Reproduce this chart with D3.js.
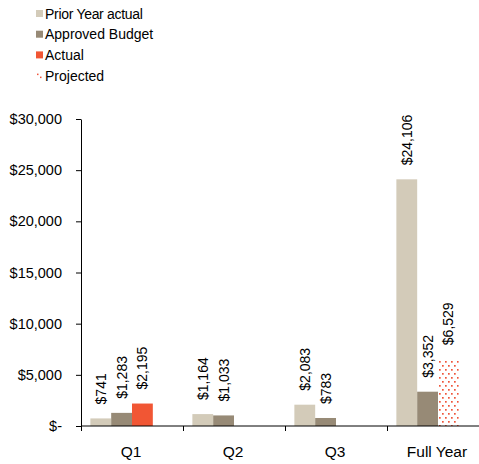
<!DOCTYPE html>
<html>
<head>
<meta charset="utf-8">
<script src="https://cdn.jsdelivr.net/npm/d3@7"></script>
<style>
	body { margin:0; background:#fff; }
	text { font-family: "Liberation Sans", Arial, sans-serif; fill:#000; }
</style>
</head>
<body>
<div id="chart-box"></div>
<script>
// Chart data
const categories= ["Q1","Q2","Q3","Full Year"];
const priorYear= [741,1164,2083,24106];
const approvedBudget= [1283,1033,783,3352];
const actual= [2195,null,null,null];
const projected= [null,null,null,6529];
const yTicks= [0,5000,10000,15000,20000,25000,30000];
const legendNames= ["Prior Year actual","Approved Budget","Actual","Projected"];

const chart=
{
	draw: function ()
	{
		const w= 479;
		const h= 464;
		const svg= d3.select("#chart-box")
		.append("svg")
		.attr("width", w)
		.attr("height", h);

		// dotted fill for projected bar
		const pat= svg.append("defs").append("pattern")
		 .attr("id","dots")
		 .attr("patternUnits","userSpaceOnUse")
		 .attr("width",6)
		 .attr("height",8);
		pat.append("rect").attr("width",6).attr("height",8).attr("fill","#fff");
		pat.append("rect").attr("x",1).attr("y",1).attr("width",1.7).attr("height",1.7).attr("fill","#f0553a");
		pat.append("rect").attr("x",4).attr("y",5).attr("width",1.7).attr("height",1.7).attr("fill","#f0553a");

		const series=
		[
			{name:legendNames[0], values:priorYear, slot:0, fill:"#d3cbb9"},
			{name:legendNames[1], values:approvedBudget, slot:1, fill:"#978a76"},
			{name:legendNames[2], values:actual, slot:2, fill:"#f15634"},
			{name:legendNames[3], values:projected, slot:2, fill:"url(#dots)"}
		];

		// Scales
		const yScale= d3.scaleLinear()
		 .domain([0,30000])
		 .range([426,119]);
		const xScale= d3.scaleBand()
		 .domain(categories)
		 .range([81,489]);
		const slotScale= d3.scaleBand()
		 .domain([0,1,2,3])
		 .range([0,xScale.bandwidth()])
		 .paddingInner(0)
		 .paddingOuter(0.45);

		// Bars
		series.forEach(s =>
		{
			const rows= categories.map((c,i)=> [c, s.values[i]]).filter(d => d[1]!==null);
			svg.append("g").selectAll("rect")
			 .data(rows)
			 .enter()
			 .append("rect")
			 .attr("x", d => xScale(d[0])+slotScale(s.slot))
			 .attr("y", d => yScale(d[1]))
			 .attr("width", slotScale.bandwidth())
			 .attr("height", d => yScale(0)-yScale(d[1]))
			 .attr("fill", s.fill);
			// value labels
			svg.append("g").selectAll("text")
			 .data(rows)
			 .enter()
			 .append("text")
			 .attr("transform", d => "translate("+(xScale(d[0])+slotScale(s.slot)+slotScale.bandwidth()/2)+","+(yScale(d[1])-14)+") rotate(-90)")
			 .attr("dy","0.36em")
			 .style("font-size","14px")
			 .text(d => "$"+d3.format(",")(d[1]));
		});

		// Y axis
		const yAxis= d3.axisLeft(yScale)
		 .tickValues(yTicks)
		 .tickSizeInner(5)
		 .tickSizeOuter(0)
		 .tickPadding(14)
		 .tickFormat(d => d===0 ? "$-" : "$"+d3.format(",")(d));
		const yg= svg.append("g")
		 .attr("transform","translate(81,0)")
		 .call(yAxis);
		yg.selectAll("text").style("font-size","14.5px").attr("fill","#000").attr("font-family",null);
		yg.selectAll("line, path").attr("stroke","#000");

		// X axis
		const xg= svg.append("g");
		xg.append("line")
		 .attr("x1",81).attr("x2",w)
		 .attr("y1",yScale(0)).attr("y2",yScale(0))
		 .attr("stroke","#000");
		xg.selectAll("line.tick")
		 .data(categories)
		 .enter()
		 .append("line")
		 .attr("class","tick")
		 .attr("x1", d => xScale(d)+0.5).attr("x2", d => xScale(d)+0.5)
		 .attr("y1",yScale(0)).attr("y2",yScale(0)+5)
		 .attr("stroke","#000");
		xg.selectAll("text")
		 .data(categories)
		 .enter()
		 .append("text")
		 .attr("x", d => xScale(d)+xScale.bandwidth()/2-1)
		 .attr("y",457)
		 .attr("text-anchor","middle")
		 .style("font-size","15.5px")
		 .text(d => d);

		// Legend
		const legend= svg.append("g");
		series.forEach((s,i) =>
		{
			const cy= 13.5+i*20.7;
			if (s.values===projected)
			{
				legend.append("rect").attr("x",37).attr("y",cy-2).attr("width",1.5).attr("height",1.5).attr("fill","#f0553a");
				legend.append("rect").attr("x",40).attr("y",cy+1).attr("width",1.5).attr("height",1.5).attr("fill","#f0553a");
			}
			else
			{
				legend.append("rect")
				 .attr("x",36).attr("y",cy-3.5)
				 .attr("width",7).attr("height",7)
				 .attr("fill",s.fill);
			}
			legend.append("text")
			 .attr("x",45)
			 .attr("y",cy)
			 .attr("dy","0.36em")
			 .style("font-size","14px")
			 .style("letter-spacing", i===0 ? "-0.3px" : null)
			 .text(s.name);
		});
	}
};

document.addEventListener("DOMContentLoaded", function(event)
{
	chart.draw();
});
</script>
</body>
</html>
